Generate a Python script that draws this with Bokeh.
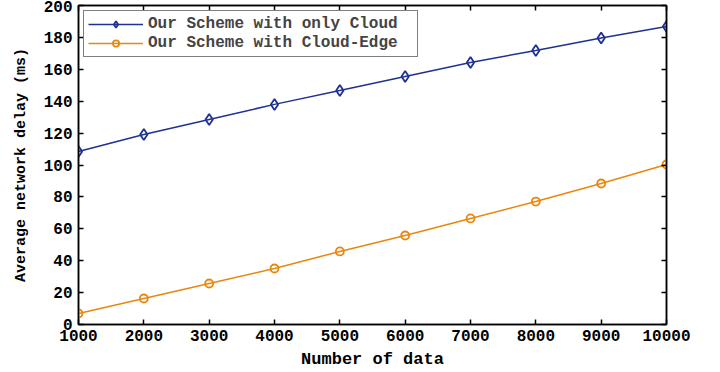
from bokeh.plotting import figure
from bokeh.models import LinearAxis, Range1d, Legend, LegendItem, FixedTicker
from bokeh.embed import file_html
from bokeh.resources import INLINE

x_data = [1000, 2000, 3000, 4000, 5000, 6000, 7000, 8000, 9000, 10000]
cloud_only = [108.5, 119.1, 128.5, 138.0, 146.7, 155.5, 164.3, 171.8, 179.6, 186.8]
cloud_edge = [6.9, 16.3, 25.7, 35.1, 45.8, 55.8, 66.5, 77.1, 88.4, 100.3]
x_ticks = [1000, 2000, 3000, 4000, 5000, 6000, 7000, 8000, 9000, 10000]
y_ticks = [0, 20, 40, 60, 80, 100, 120, 140, 160, 180, 200]
label_cloud = "Our Scheme with only Cloud"
label_edge = "Our Scheme with Cloud-Edge"

BLUE = "#1f3192"
ORANGE = "#e8870e"
FONT = "Liberation Mono"

p = figure(width=704, height=371, output_backend="svg", toolbar_location=None,
           x_range=Range1d(1000, 10000), y_range=Range1d(0, 200),
           min_border_left=78, min_border_right=38, min_border_top=5, min_border_bottom=47)
p.grid.visible = False
p.outline_line_color = "black"
p.outline_line_width = 1.5

r1 = p.line(x_data, cloud_only, line_color=BLUE, line_width=1.5)
m1 = p.scatter(x_data, cloud_only, marker="diamond", size=11, fill_color=None,
               line_color=BLUE, line_width=1.8)
r2 = p.line(x_data, cloud_edge, line_color=ORANGE, line_width=1.5)
m2 = p.scatter(x_data, cloud_edge, marker="circle", size=8, fill_color=None,
               line_color=ORANGE, line_width=1.8)

def style_axis(ax):
    ax.axis_line_width = 1.5
    ax.major_tick_in = 5
    ax.major_tick_out = 0
    ax.minor_tick_in = 0
    ax.minor_tick_out = 0
    ax.major_tick_line_width = 1.5
    ax.major_label_text_font = FONT
    ax.major_label_text_font_style = "bold"
    ax.major_label_text_font_size = "16px"
    ax.major_label_text_color = "black"
    ax.axis_label_text_font = FONT
    ax.axis_label_text_font_style = "bold"
    ax.axis_label_text_color = "black"

p.xaxis.ticker = FixedTicker(ticks=x_ticks)
p.yaxis.ticker = FixedTicker(ticks=y_ticks)
p.xaxis.axis_label = "Number of data"
p.yaxis.axis_label = "Average network delay (ms)"
style_axis(p.xaxis[0])
style_axis(p.yaxis[0])
p.xaxis.major_label_standoff = 5
p.yaxis.major_label_standoff = 6
p.xaxis.axis_label_standoff = 6
p.yaxis.axis_label_standoff = 11
p.xaxis.axis_label_text_font_size = "17px"
p.yaxis.axis_label_text_font_size = "15px"

top = LinearAxis(ticker=FixedTicker(ticks=x_ticks),
                 major_label_overrides={t: "" for t in x_ticks})
right = LinearAxis(ticker=FixedTicker(ticks=y_ticks),
                   major_label_overrides={t: "" for t in y_ticks})
style_axis(top)
style_axis(right)
top.major_label_standoff = 0
right.major_label_standoff = 0
p.add_layout(top, "above")
p.add_layout(right, "right")

legend = Legend(items=[LegendItem(label=label_cloud, renderers=[r1, m1]),
                       LegendItem(label=label_edge, renderers=[r2, m2])],
                location="top_left")
legend.label_text_font = FONT
legend.label_text_font_style = "bold"
legend.label_text_font_size = "16px"
legend.border_line_color = "black"
legend.border_line_width = 1.2
legend.glyph_width = 55
legend.glyph_height = 16
legend.label_height = 16
legend.label_width = 265
legend.spacing = 1
legend.padding = 4
legend.margin = 5
legend.label_standoff = 5
legend.background_fill_alpha = 1
p.add_layout(legend)

open("out.html", "w").write(file_html(p, INLINE))
